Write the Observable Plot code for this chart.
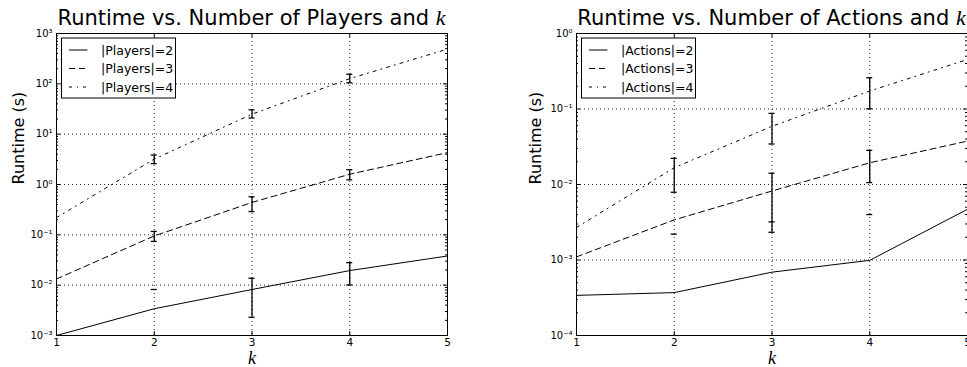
<!DOCTYPE html>
<html><head><meta charset="utf-8">
<script src="https://cdn.jsdelivr.net/npm/d3@7"></script>
<script src="https://cdn.jsdelivr.net/npm/@observablehq/plot@0.6"></script>
<style>
body{margin:0;background:#fff;}
#wrap{position:relative;width:967px;height:367px;overflow:hidden;background:#fff;}
#wrap svg{position:absolute;top:0;overflow:visible;background:transparent;}
</style></head><body><div id="wrap"></div>
<script>
// ---- data ----
const kValues = [1, 2, 3, 4, 5];

const playersNames = ["|Players|=2", "|Players|=3", "|Players|=4"];
const players2 = [0.001, 0.0034, 0.0082, 0.0195, 0.038];
const players3 = [0.0133, 0.095, 0.44, 1.6, 4.3];
const players4 = [0.22, 3.2, 25, 127, 490];
// error bars: [k, low, high]  (low null => only upper cap visible on log axis)
const playersErr2 = [[2, null, 0.0082], [3, 0.0023, 0.0137], [4, 0.0101, 0.028]];
const playersErr3 = [[2, 0.074, 0.117], [3, 0.29, 0.57], [4, 1.24, 1.97]];
const playersErr4 = [[2, 2.6, 3.85], [3, 21, 30.5], [4, 105, 155]];
const playersDomain = [1e-3, 1e3];

const actionsNames = ["|Actions|=2", "|Actions|=3", "|Actions|=4"];
const actions2 = [0.00034, 0.00037, 0.00069, 0.00099, 0.0047];
const actions3 = [0.0011, 0.0034, 0.0082, 0.0194, 0.0376];
const actions4 = [0.0027, 0.0167, 0.059, 0.173, 0.453];
const actionsErr2 = [[2, null, 0.0022], [3, null, 0.0032], [4, null, 0.0040]];
const actionsErr3 = [[3, 0.00233, 0.0141], [4, 0.0106, 0.0283]];
const actionsErr4 = [[2, 0.0079, 0.0222], [3, 0.0344, 0.0875], [4, 0.1006, 0.259]];
const actionsDomain = [1e-4, 1e0];

// ---- helpers ----
const supMap = {"-":"\u207B","0":"\u2070","1":"\u00B9","2":"\u00B2","3":"\u00B3","4":"\u2074","5":"\u2075","6":"\u2076","7":"\u2077","8":"\u2078","9":"\u2079"};
const fmtPow = d => "10" + String(Math.round(Math.log10(d))).replace(/./g, c => supMap[c]);

function build({titleText, names, series, errs, domain, offset, yLabelDx}) {
  const width = 460, height = 367, mL = 56, mR = 13, mT = 33, mB = 32;
  const e0 = Math.round(Math.log10(domain[0])), e1 = Math.round(Math.log10(domain[1]));
  const decades = d3.range(e0, e1 + 1).map(e => Math.pow(10, e));
  const minors = [];
  for (const d of decades.slice(0, -1)) for (let m = 2; m <= 9; m++) minors.push(d * m);
  const dashes = [null, "6,4", "3,5,1,5"];
  const gridStyle = {stroke: "black", strokeOpacity: 0.85, strokeWidth: 1, strokeDasharray: "1,3"};

  const marks = [
    Plot.gridY(decades.slice(1, -1), gridStyle),
    Plot.gridX([2, 3, 4], gridStyle)
  ];
  series.forEach((vals, i) => {
    marks.push(Plot.line(kValues.map((k, j) => ({k, v: vals[j]})),
      {x: "k", y: "v", stroke: "black", strokeWidth: 1, strokeDasharray: dashes[i]}));
  });
  errs.forEach(list => {
    const rows = list.map(([k, lo, hi]) => ({k, lo, hi}));
    marks.push(Plot.ruleX(rows.filter(r => r.lo != null), {x: "k", y1: "lo", y2: "hi", stroke: "black", strokeWidth: 1.3}));
    const caps = rows.flatMap(r => r.lo != null ? [{k: r.k, v: r.lo}, {k: r.k, v: r.hi}] : [{k: r.k, v: r.hi}]);
    marks.push(Plot.ruleY(caps, {x1: "k", x2: "k", y: "v", insetLeft: -3, insetRight: -3, stroke: "black", strokeWidth: 1.3}));
  });
  // inward ticks (matplotlib classic)
  const tk = {stroke: "black", strokeWidth: 1};
  marks.push(Plot.ruleY(decades, {y: d => d, x1: 1, x2: 1, insetRight: -4, ...tk}));
  marks.push(Plot.ruleY(decades, {y: d => d, x1: 5, x2: 5, insetLeft: -4, ...tk}));
  marks.push(Plot.ruleY(minors, {y: d => d, x1: 1, x2: 1, insetRight: -2, ...tk}));
  marks.push(Plot.ruleY(minors, {y: d => d, x1: 5, x2: 5, insetLeft: -2, ...tk}));
  marks.push(Plot.ruleX(kValues, {x: d => d, y1: domain[0], y2: domain[0], insetTop: -4, ...tk}));
  marks.push(Plot.ruleX(kValues, {x: d => d, y1: domain[1], y2: domain[1], insetBottom: -4, ...tk}));
  marks.push(Plot.frame({stroke: "black", strokeWidth: 1}));
  marks.push(Plot.axisY(decades, {tickSize: 0, tickPadding: 4, tickFormat: fmtPow, label: null, fontSize: 10}));
  marks.push(Plot.axisX(kValues, {tickSize: 0, tickPadding: 3, tickFormat: d => String(d), label: null, fontSize: 10.5}));
  marks.push(Plot.text(["Runtime (s)"], {frameAnchor: "left", text: d => d, rotate: -90, dx: yLabelDx, fontSize: 16, fill: "black"}));
  marks.push(Plot.text(["k"], {frameAnchor: "bottom", text: d => d, dy: 16, lineAnchor: "top", fontSize: 18, fontStyle: "italic", fontFamily: "Liberation Serif", fill: "black"}));

  const svg = Plot.plot({
    width, height, marginLeft: mL, marginRight: mR, marginTop: mT, marginBottom: mB,
    style: {fontFamily: "DejaVu Sans", color: "black", background: "transparent"},
    x: {domain: [1, 5]},
    y: {type: "log", domain},
    marks
  });
  svg.style.left = offset + "px";
  const s = d3.select(svg);
  // title
  const t = s.append("text").attr("x", (mL + width - mR) / 2).attr("y", 25)
    .attr("text-anchor", "middle").attr("font-family", "DejaVu Sans").attr("font-size", 21).attr("fill", "black");
  t.append("tspan").text(titleText);
  t.append("tspan").attr("font-family", "Liberation Serif").attr("font-style", "italic").attr("font-size", 22).text("k");
  // legend
  const lg = s.append("g").attr("transform", `translate(${mL + 5.5},${mT + 5})`);
  lg.append("rect").attr("width", 114).attr("height", 60).attr("fill", "white").attr("stroke", "black");
  names.forEach((n, i) => {
    const y = 12 + i * 18.5;
    lg.append("line").attr("x1", 7.5).attr("x2", 26).attr("y1", y).attr("y2", y)
      .attr("stroke", "black").attr("stroke-dasharray", dashes[i] || null);
    lg.append("text").attr("x", 39.5).attr("y", y).attr("dy", "0.36em").attr("text-anchor", "start")
      .attr("font-family", "DejaVu Sans").attr("font-size", 12.5).attr("fill", "black").text(n);
  });
  return svg;
}

const wrap = document.getElementById("wrap");
wrap.appendChild(build({
  titleText: "Runtime vs. Number of Players and ", names: playersNames,
  series: [players2, players3, players4], errs: [playersErr2, playersErr3, playersErr4],
  domain: playersDomain, offset: 0, yLabelDx: -38
}));
wrap.appendChild(build({
  titleText: "Runtime vs. Number of Actions and ", names: actionsNames,
  series: [actions2, actions3, actions4], errs: [actionsErr2, actionsErr3, actionsErr4],
  domain: actionsDomain, offset: 520, yLabelDx: -41
}));
</script></body></html>
